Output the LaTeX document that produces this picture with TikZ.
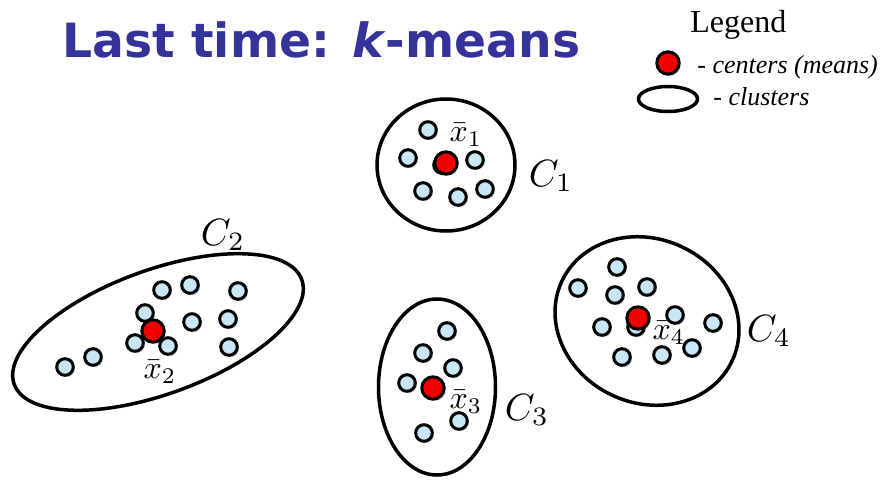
\documentclass[tikz,border=0pt]{standalone}
\usepackage{fontspec}
\usepackage{tikz}
\usetikzlibrary{shapes.geometric,shadows,positioning}
\newfontfamily\titlefont{DejaVu Sans}
\newfontfamily\legendfont{Liberation Serif}
\definecolor{titleblue}{HTML}{333399}
\definecolor{obsfill}{HTML}{C9E7F6}
\definecolor{meanred}{HTML}{F20000}

\begin{document}
\begin{tikzpicture}[x=0.5pt,y=-0.5pt,
   obs/.style={circle,draw=black,line width=1.5pt,fill=obsfill,minimum size=8.3pt,inner sep=0pt,
     drop shadow={shadow xshift=0.9pt,shadow yshift=-0.9pt,opacity=0.3}},
   ctr/.style={obs,fill=meanred,minimum size=11.2pt},
   clu/.style={ellipse,draw=black,line width=1.75pt,inner sep=0pt},
   lbl/.style={inner sep=0pt}]
  \useasboundingbox (0,0) rectangle (884,481);

  % title and legend
  \node[lbl,anchor=base west,text=titleblue,font=\titlefont\bfseries\fontsize{23.6}{28}\selectfont] (title) at (62,58) {Last time: \textit{k}-means};
  \node[lbl,anchor=base west,font=\legendfont\fontsize{16}{19}\selectfont] (legend) at (690,33) {Legend};
  \node[ctr] (lgctr) at (668,63) {};
  \node[lbl,anchor=base west,font=\legendfont\itshape\fontsize{13}{16}\selectfont] (lgctrtxt) at (697,74) {- centers (means)};
  \node[clu,minimum width=29.5pt,minimum height=12.5pt] (lgclu) at (668,99) {};
  \node[lbl,anchor=base west,font=\legendfont\itshape\fontsize{13}{16}\selectfont] (lgclutxt) at (713,106) {- clusters};

  % clusters
  \node[clu,minimum width=69pt,minimum height=66pt] (c1) at (446,165) {};
  \node[clu,minimum width=153pt,minimum height=62pt,rotate=20] (c2) at (158,332) {};
  \node[clu,minimum width=58.5pt,minimum height=88pt] (c3) at (437,387) {};
  \node[clu,minimum width=94pt,minimum height=82pt,rotate=-25] (c4) at (647,321) {};

  % data points
  \foreach \px/\py [count=\i] in {428/130,408/158,475/160,423/191,458/197,485/189,442/165}
    \node[obs] (a\i) at (\px,\py) {};
  \foreach \px/\py [count=\i] in {65/367,93/357,135/343,168/346,145/313,162/290,190/285,192/322,238/291,228/319,229/347}
    \node[obs] (b\i) at (\px,\py) {};
  \foreach \px/\py [count=\i] in {447/331,423/353,453/368,407/383,459/421,424/433}
    \node[obs] (d\i) at (\px,\py) {};
  \foreach \px/\py [count=\i] in {617/267,578/288,615/295,647/287,602/327,675/315,713/323,692/348,662/355,622/357,636/327}
    \node[obs] (e\i) at (\px,\py) {};

  % means
  \node[ctr] (m1) at (446,163) {};
  \node[ctr] (m2) at (153,331) {};
  \node[ctr] (m3) at (433,388) {};
  \node[ctr] (m4) at (638,318) {};

  % labels
  \node[lbl,scale=1.6] (xb1) at (466,135) {$\bar{x}_1$};
  \node[lbl,scale=1.6] (xb2) at (160,372) {$\bar{x}_2$};
  \node[lbl,scale=1.6] (xb3) at (466,402) {$\bar{x}_3$};
  \node[lbl,scale=1.6] (xb4) at (669,333) {$\bar{x}_4$};
  \node[lbl,scale=1.9] (lc1) at (551,176) {$C_1$};
  \node[lbl,scale=1.9] (lc2) at (223,235) {$C_2$};
  \node[lbl,scale=1.9] (lc3) at (527,410) {$C_3$};
  \node[lbl,scale=1.9] (lc4) at (769,331) {$C_4$};
\end{tikzpicture}
\end{document}
